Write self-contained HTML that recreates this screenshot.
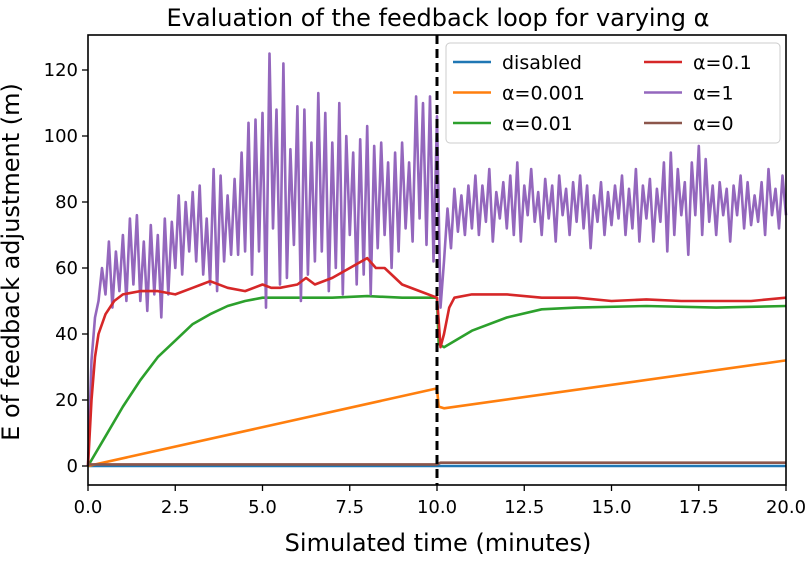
<!DOCTYPE html>
<html><head><meta charset="utf-8"><style>
body{margin:0;background:#fff;}
svg{font-family:"DejaVu Sans","Liberation Sans",sans-serif;}
</style></head><body>
<svg id="chart" width="809" height="556" viewBox="0 0 809 556" xmlns="http://www.w3.org/2000/svg">
<text x="438" y="26" text-anchor="middle" font-size="24">Evaluation of the feedback loop for varying α</text>
<text x="438" y="551" text-anchor="middle" font-size="24">Simulated time (minutes)</text>
<text transform="translate(19,262) rotate(-90)" text-anchor="middle" font-size="24">E of feedback adjustment (m)</text>
<g id="plot"></g>
</svg>
<script>
const xTicks=[0,2.5,5,7.5,10,12.5,15,17.5,20];
const xTickLabels=["0.0","2.5","5.0","7.5","10.0","12.5","15.0","17.5","20.0"];
const yTicks=[0,20,40,60,80,100,120];
const purpleVals=[0,32,45,50,60,52,68,48,65,53,70,50,75,55,76,50,68,47,73,52,70,45,75,52,74,60,82,58,80,65,83,62,85,58,75,55,90,53,88,62,82,64,87,64,95,65,104,58,105,65,107,48,125,72,108,55,122,57,96,67,109,50,108,58,98,62,113,65,107,53,98,60,110,52,100,70,95,55,99,58,103,52,97,66,98,70,92,60,95,65,98,72,92,68,112,75,110,67,112,62,106,48,62,78,66,84,71,82,70,85,72,88,70,85,74,90,68,83,75,86,72,88,70,92,68,85,76,90,74,83,70,87,75,85,68,88,76,84,70,86,74,88,72,85,66,82,74,86,70,83,73,85,75,88,70,84,72,90,68,85,75,87,68,84,74,92,65,95,70,90,76,86,64,92,76,97,70,93,74,85,70,86,76,84,68,85,76,88,72,86,73,82,74,86,70,90,76,84,72,88,76];
const redX=[0,0.1,0.2,0.3,0.5,0.75,1,1.5,2,2.5,3,3.25,3.5,4,4.5,5,5.25,5.5,6,6.25,6.5,7,7.5,8,8.25,8.5,9,9.5,10,10.05,10.1,10.2,10.35,10.5,11,12,13,14,15,16,17,18,19,20];
const redVals=[0,20,33,40,46,50,52,53,53,52,54,55,56,54,53,55,54,54,55,57,55,57,60,63,60,60,55,53,51,44,36,40,48,51,52,52,51,51,50,50.5,50,50,50,51];
const greenX=[0,0.5,1,1.5,2,2.5,3,3.5,4,4.5,5,6,7,8,9,10,10.05,10.2,11,12,13,14,16,18,20];
const greenVals=[0,9,18,26,33,38,43,46,48.5,50,51,51,51,51.5,51,51,37,36,41,45,47.5,48,48.5,48,48.5];
const orangeX=[0,10,10.05,10.2,20];
const orangeVals=[0,23.5,18,17.5,32];
const brownX=[0,10,10.1,20];
const brownVals=[0.5,0.5,1,1];
const blueX=[0,20];
const blueVals=[0,0];
const L=88,R=786,T=35,B=485;
const xs=v=>L+(v-0)/20*(R-L);
const ys=v=>466-v*3.3;
const NS="http://www.w3.org/2000/svg";
const g=document.getElementById('plot');
function mk(t,a){const e=document.createElementNS(NS,t);for(const k in a)e.setAttribute(k,a[k]);g.appendChild(e);return e;}
function line(xsArr,vals,color,name){
  const d=vals.map((v,i)=>(i?'L':'M')+xs(xsArr[i]).toFixed(1)+','+ys(v).toFixed(1)).join('');
  const p=mk('path',{d:d,fill:'none',stroke:color,'stroke-width':2.6,'stroke-linejoin':'round'});
  
  
}
const purpleX=purpleVals.map((v,i)=>i*0.1);
line(blueX,blueVals,'#1f77b4','series-disabled');
line(orangeX,orangeVals,'#ff7f0e','series-alpha-0.001');
line(greenX,greenVals,'#2ca02c','series-alpha-0.01');
line(purpleX,purpleVals,'#9467bd','series-alpha-1');
line(redX,redVals,'#d62728','series-alpha-0.1');
line(brownX,brownVals,'#8c564b','series-alpha-0');
const vl=mk('line',{x1:xs(10),x2:xs(10),y1:T,y2:B,stroke:'#000','stroke-width':3,'stroke-dasharray':'9,5'});


const fr=mk('rect',{x:L,y:T,width:R-L,height:B-T,fill:'none',stroke:'#000','stroke-width':1.6});


xTicks.forEach((v,i)=>{
  const t=mk('line',{x1:xs(v),x2:xs(v),y1:B,y2:B+6,stroke:'#000','stroke-width':1.3});
  
  
  const tx=mk('text',{x:xs(v),y:B+28,'text-anchor':'middle','font-size':18});
  tx.textContent=xTickLabels[i];
  
  
});
yTicks.forEach(v=>{
  const t=mk('line',{x1:L-6,x2:L,y1:ys(v),y2:ys(v),stroke:'#000','stroke-width':1.3});
  
  
  const tx=mk('text',{x:L-10,y:ys(v)+6,'text-anchor':'end','font-size':18});
  tx.textContent=String(v);
  
  
});
const lg=mk('rect',{x:446,y:43,width:334,height:100,rx:4,fill:'#fff','fill-opacity':0.8,stroke:'#ccc','stroke-width':1});


const legendLabels=["disabled","α=0.001","α=0.01","α=0.1","α=1","α=0"];
const legendColors=['#1f77b4','#ff7f0e','#2ca02c','#d62728','#9467bd','#8c564b'];
legendLabels.forEach((lab,i)=>{
  const col=Math.floor(i/3),row=i%3;
  const x0=col?644:453,y0=62+row*30.5;
  const l=mk('line',{x1:x0,x2:x0+38,y1:y0,y2:y0,stroke:legendColors[i],'stroke-width':2.6});
  
  
  const t=mk('text',{x:x0+49,y:y0+7,'font-size':19});
  t.textContent=lab;
  
  
});
</script>
</body></html>
